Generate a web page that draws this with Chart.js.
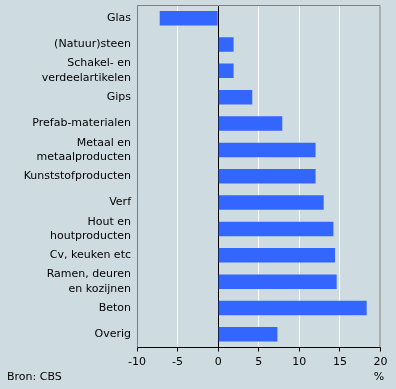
<!DOCTYPE html>
<html>
<head>
<meta charset="utf-8">
<script src="https://cdn.jsdelivr.net/npm/chart.js@4/dist/chart.umd.min.js"></script>
<style>
  html, body { margin: 0; padding: 0; background: #cedce1; }
  #wrap { width: 396px; height: 389px; }
</style>
</head>
<body>
<div id="wrap"><canvas id="chart" width="396" height="389"></canvas></div>
<script>
// Categories (top to bottom) and change in %
const categories = [
    'Glas',
    '(Natuur)steen',
    ['Schakel- en', 'verdeelartikelen'],
    'Gips',
    'Prefab-materialen',
    ['Metaal en', 'metaalproducten'],
    'Kunststofproducten',
    'Verf',
    ['Hout en', 'houtproducten'],
    'Cv, keuken etc',
    ['Ramen, deuren', 'en kozijnen'],
    'Beton',
    'Overig'
];
const values = [-7.2, 1.9, 1.9, 4.2, 7.9, 12.0, 12.0, 13.0, 14.2, 14.4, 14.6, 18.3, 7.3];

const xMin = -10;
const xMax = 20;
const xStep = 5;
const unitLabel = '%';
const sourceText = 'Bron: CBS';

const fontFamily = '"DejaVu Sans", Verdana, sans-serif';
const bgColor = '#cedce1';

// background, frame and the extra texts
const decorPlugin = {
    id: 'decor',
    beforeDraw(chart) {
        const ctx = chart.ctx;
        ctx.save();
        ctx.fillStyle = bgColor;
        ctx.fillRect(0, 0, chart.width, chart.height);
        ctx.restore();
    },
    beforeDatasetsDraw(chart) {
        const a = chart.chartArea;
        const ctx = chart.ctx;
        ctx.save();
        ctx.strokeStyle = '#808080';
        ctx.lineWidth = 1;
        ctx.beginPath();
        ctx.moveTo(a.left + 0.5, a.bottom);
        ctx.lineTo(a.left + 0.5, a.top + 0.5);
        ctx.lineTo(a.right - 0.5, a.top + 0.5);
        ctx.lineTo(a.right - 0.5, a.bottom);
        ctx.stroke();
        ctx.restore();
    },
    afterDraw(chart) {
        const ctx = chart.ctx;
        ctx.save();
        ctx.fillStyle = '#000';
        ctx.font = '11px ' + fontFamily;
        ctx.textBaseline = 'middle';
        ctx.textAlign = 'left';
        ctx.fillText(sourceText, 7, 377);
        ctx.textAlign = 'center';
        ctx.fillText(unitLabel, 379, 377);
        ctx.restore();
    }
};

const ctx = document.getElementById('chart').getContext('2d');
new Chart(ctx, {
    type: 'bar',
    data: {
        labels: categories,
        datasets: [{
            data: values,
            backgroundColor: '#3366ff',
            borderWidth: 0,
            barPercentage: 0.55,
            categoryPercentage: 1.0
        }]
    },
    options: {
        indexAxis: 'y',
        responsive: false,
        animation: false,
        layout: {
            padding: { left: 0, right: 15.5, top: 5, bottom: 0 }
        },
        plugins: {
            legend: { display: false },
            tooltip: { enabled: false }
        },
        scales: {
            x: {
                min: xMin,
                max: xMax,
                afterFit(scale) { scale.height = 41.5; },
                ticks: {
                    stepSize: xStep,
                    color: '#000',
                    padding: 4,
                    font: { family: fontFamily, size: 11 }
                },
                grid: {
                    color(c) {
                        const v = c.tick ? c.tick.value : null;
                        if (v === 0) return '#000';
                        if (v === xMin || v === xMax) return 'rgba(0,0,0,0)';
                        return '#ffffff';
                    },
                    tickColor: '#000',
                    tickLength: 4,
                    lineWidth: 1
                },
                border: { color: '#000', width: 1 }
            },
            y: {
                afterFit(scale) {
                    scale.width = 137;
                    scale.paddingTop = 0;
                    scale.paddingBottom = 0;
                },
                ticks: {
                    autoSkip: false,
                    color: '#000',
                    padding: 6,
                    font: { family: fontFamily, size: 11, lineHeight: 1.32 }
                },
                grid: { display: false, drawTicks: false },
                border: { display: false }
            }
        }
    },
    plugins: [decorPlugin]
});
</script>
</body>
</html>
